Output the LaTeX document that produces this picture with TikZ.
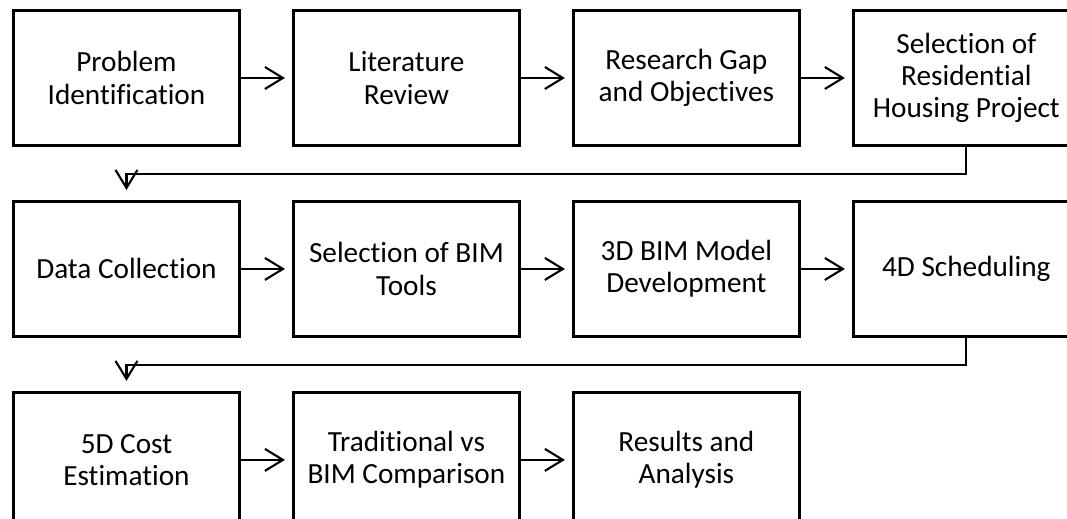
\documentclass[tikz,border=0pt]{standalone}
\usepackage{fontspec}
\setmainfont{Carlito}[Ligatures=NoCommon]
\usetikzlibrary{arrows.meta}
\usetikzlibrary{positioning}
\tikzstyle{process_box} = [
    rectangle, 
    draw=black, 
    line width=2.1pt, 
    align=center, 
    inner sep=0pt, 
    minimum width=5.65cm, 
    minimum height=3.375cm, 
    font=\fontsize{20.8pt}{23pt}\selectfont
]
\tikzstyle{flow_line} = [
    draw=black, 
    line width=1.5pt, 
    -{Straight Barb[length=0.45cm, width=0.55cm]}
]

\begin{document}
\begin{tikzpicture}[
    node distance = 1.325cm and 1.275cm
] 
\useasboundingbox (0,0) rectangle (26.675,-12.95);
% first row
\node [process_box, anchor=north west] (problem) at (0.3,-0.225) {Problem\\Identification};
\node [process_box, right=of problem] (literature) {Literature\\Review};
\node [process_box, right=of literature] (gap) {Research Gap\\and Objectives};
\node [process_box, right=of gap] (housing) {Selection of\\Residential\\Housing Project};
% second row
\node [process_box, below=of problem] (data) {Data Collection};
\node [process_box, right=of data] (tools) {Selection of BIM\\Tools};
\node [process_box, right=of tools] (model) {3D BIM Model\\Development};
\node [process_box, right=of model] (schedule) {4D Scheduling};
% third row
\node [process_box, below=of data] (cost) {5D Cost\\Estimation};
\node [process_box, right=of cost] (compare) {Traditional vs\\BIM Comparison};
\node [process_box, right=of compare] (results) {Results and\\Analysis};

\draw [flow_line] (problem.east) -- ([xshift=-0.175cm]literature.west);
\draw [flow_line] (literature.east) -- ([xshift=-0.175cm]gap.west);
\draw [flow_line] (gap.east) -- ([xshift=-0.175cm]housing.west);
\draw [flow_line] (housing.south) -- ++(0,-0.675) -| ([yshift=0.25cm]data.north);
\draw [flow_line] (data.east) -- ([xshift=-0.175cm]tools.west);
\draw [flow_line] (tools.east) -- ([xshift=-0.175cm]model.west);
\draw [flow_line] (model.east) -- ([xshift=-0.175cm]schedule.west);
\draw [flow_line] (schedule.south) -- ++(0,-0.675) -| ([yshift=0.25cm]cost.north);
\draw [flow_line] (cost.east) -- ([xshift=-0.175cm]compare.west);
\draw [flow_line] (compare.east) -- ([xshift=-0.175cm]results.west);
\end{tikzpicture}
\end{document}
